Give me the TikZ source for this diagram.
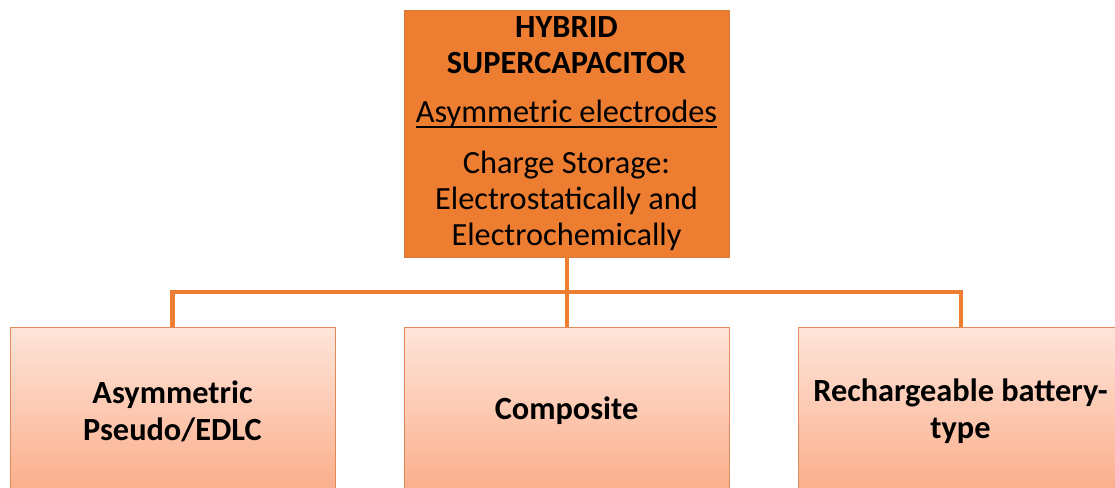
\documentclass[tikz,border=0pt]{standalone}
\usepackage{fontspec}
\setmainfont{Carlito}
\usetikzlibrary{calc}
\definecolor{accent}{HTML}{ED7D31}
\definecolor{accentedge}{HTML}{D9783C}
\definecolor{palepeach}{HTML}{FEE5DA}
\definecolor{deeppeach}{HTML}{FBAD89}
\definecolor{peachedge}{HTML}{E08A5C}
\newcommand{\titlefont}{\bfseries\fontsize{23}{25.6}\selectfont}
\newcommand{\ulinetext}[1]{\setbox0\hbox{#1}\rlap{\rule[-4.3pt]{\wd0}{1.4pt}}\box0}

\begin{document}
\begin{tikzpicture}[
    every node/.style={font=\fontsize{23}{25.6}\selectfont},
    topbox/.style={rectangle, draw=accentedge, fill=accent, minimum width=8.125cm,
                   minimum height=6.175cm, align=center, inner sep=0pt},
    typebox/.style={rectangle, draw=peachedge, top color=palepeach, bottom color=deeppeach,
                    minimum width=8.125cm, minimum height=4.2cm, align=center,
                    font=\bfseries\fontsize{23}{26.3}\selectfont},
    link/.style={line width=2.85pt, accent}
]
    \useasboundingbox (0,0) rectangle (27.875,-12.175);
    \clip (0,0) rectangle (27.875,-12.175);

    % hybrid type on top
    \node[topbox] (hybrid) at (14.1625,-3.3375)
        {{\titlefont HYBRID}\\{\titlefont SUPERCAPACITOR}\\[9.2pt]
         \ulinetext{Asymmetric electrodes}\\[10.7pt]Charge Storage:\\Electrostatically and\\Electrochemically};

    % the three kinds
    \node[typebox] (asym) at (4.3125,-10.275)  {Asymmetric\\Pseudo/EDLC};
    \node[typebox] (comp) at (14.1625,-10.275) {Composite};
    \node[typebox] (rech) at (24.0125,-10.275) {Rechargeable battery-\\type};

    \coordinate (bus) at ($(hybrid.south)!0.5!(comp.north)$);
    \draw[link] (hybrid.south) -- (comp.north);
    \draw[link] (asym.north) |- (bus) -| (rech.north);
\end{tikzpicture}
\end{document}
